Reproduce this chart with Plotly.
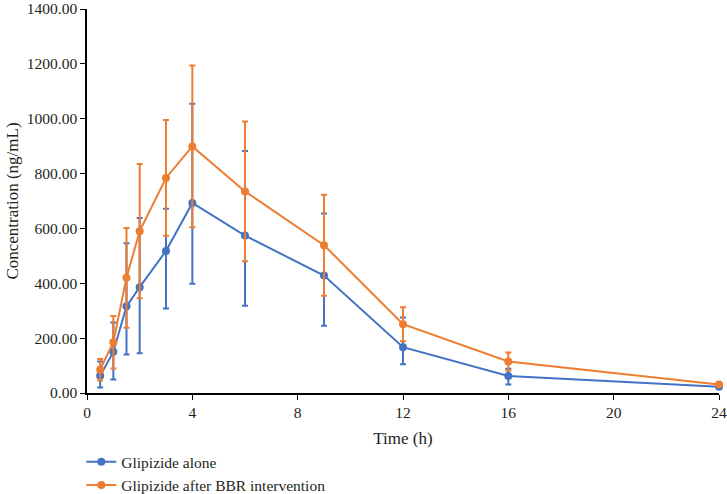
import plotly.graph_objects as go

time_h = [0.5, 1, 1.5, 2, 3, 4, 6, 9, 12, 16, 24]
alone_mean = [63, 150, 316, 386, 518, 693, 574, 428, 167, 62, 23]
alone_err_up = [52, 107, 230, 252, 154, 362, 308, 226, 108, 26, 0]
alone_err_down = [43, 101, 176, 241, 210, 295, 256, 183, 62, 31, 0]
bbr_mean = [85, 185, 420, 590, 784, 899, 735, 539, 251, 115, 31]
bbr_sd = [39, 96, 182, 245, 211, 295, 255, 184, 62, 33, 0]

y_ticks = [0, 200, 400, 600, 800, 1000, 1200, 1400]
x_ticks = [0, 4, 8, 12, 16, 20, 24]

blue = "#4472C4"
orange = "#ED7D31"
font_family = "Liberation Serif"

fig = go.Figure()
fig.add_trace(go.Scatter(
    x=time_h, y=alone_mean, name="Glipizide alone", mode="lines+markers",
    line=dict(color=blue, width=2), marker=dict(color=blue, size=8),
    error_y=dict(type="data", symmetric=False, array=alone_err_up, arrayminus=alone_err_down,
                 visible=True, color=blue, thickness=2, width=3),
    cliponaxis=False,
))
fig.add_trace(go.Scatter(
    x=time_h, y=bbr_mean, name="Glipizide after BBR intervention", mode="lines+markers",
    line=dict(color=orange, width=2), marker=dict(color=orange, size=8),
    error_y=dict(type="data", array=bbr_sd, visible=True, color=orange, thickness=2, width=3),
    cliponaxis=False,
))

fig.update_layout(
    width=727, height=494,
    margin=dict(l=87, r=8, t=9, b=101, autoexpand=False),
    paper_bgcolor="white", plot_bgcolor="white",
    font=dict(family=font_family, size=14, color="#231f20"),
    showlegend=True,
    legend=dict(orientation="v", x=-0.009, xanchor="left", y=-0.136, yanchor="top",
                font=dict(size=15.5), bgcolor="rgba(0,0,0,0)"),
    xaxis=dict(range=[0, 24], tickvals=x_ticks, showgrid=False, zeroline=False,
               showline=True, linecolor="black", linewidth=1.5, automargin=False,
               ticks="outside", ticklen=5, tickcolor="black", tickfont=dict(size=15.5),
               ticklabeloverflow="allow",
               title=dict(text="Time (h)", standoff=12)),
    yaxis=dict(range=[0, 1400], tickvals=y_ticks, tickformat=".2f", showgrid=False,
               zeroline=False, showline=True, linecolor="black", linewidth=1.5, automargin=False,
               ticks="outside", ticklen=5, tickcolor="black", tickfont=dict(size=15.5),
               ticklabeloverflow="allow",
               title=dict(text="Concentration (ng/mL)", standoff=4)),
)

fig.write_html("out.html", config={"displayModeBar": False},
               post_script="document.body.style.margin='0';document.body.style.overflow='hidden';")
